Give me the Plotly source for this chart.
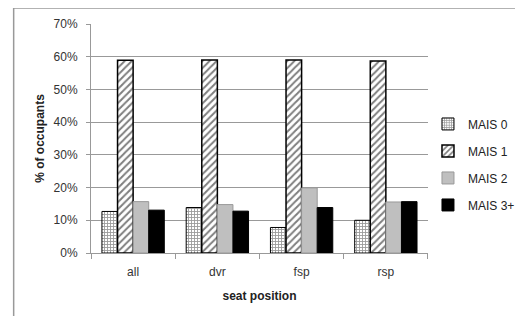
import plotly.graph_objects as go

categories = ["all", "dvr", "fsp", "rsp"]
mais0 = [0.127, 0.139, 0.078, 0.100]
mais1 = [0.589, 0.590, 0.590, 0.587]
mais2 = [0.157, 0.148, 0.199, 0.156]
mais3 = [0.131, 0.128, 0.139, 0.157]
series_names = ["MAIS 0", "MAIS 1", "MAIS 2", "MAIS 3+"]
y_ticks = [0, 0.1, 0.2, 0.3, 0.4, 0.5, 0.6, 0.7]

fig = go.Figure()
fig.add_bar(name=series_names[0], x=categories, y=mais0, legendgroup="g0",
            marker=dict(color="white", line=dict(color="black", width=1),
                        pattern=dict(shape="+", fgcolor="#333", bgcolor="white", size=3, solidity=0.5)))
fig.add_bar(name=series_names[1], x=categories, y=mais1, legendgroup="g1",
            marker=dict(color="white", line=dict(color="black", width=1.5),
                        pattern=dict(shape="/", fgcolor="black", bgcolor="white", size=5, solidity=0.4)))
fig.add_bar(name=series_names[2], x=categories, y=mais2, legendgroup="g2",
            marker=dict(color="#bfbfbf", line=dict(color="#999999", width=1)))
fig.add_bar(name=series_names[3], x=categories, y=mais3, legendgroup="g3",
            marker=dict(color="black", line=dict(color="black", width=1)))

font = "Liberation Sans, Arial, sans-serif"
# page body has an 8px margin, so the figure is 8px smaller to fit the window
fig.update_layout(
    width=515, height=308,
    margin=dict(l=83, r=90, t=16, b=63),
    paper_bgcolor="white", plot_bgcolor="white",
    barmode="group", bargap=0.26, bargroupgap=0,
    font=dict(family=font, size=12, color="#333"),
    showlegend=True,
    legend=dict(xref="container", yref="container", x=0.8155, y=0.492,
                xanchor="left", yanchor="middle",
                font=dict(size=12, color="#222"), tracegroupgap=8,
                itemwidth=30, bgcolor="rgba(0,0,0,0)"),
    xaxis=dict(showline=True, linecolor="#999", linewidth=1, automargin=False,
               ticks="outside", ticklen=5, tickcolor="#999",
               tickson="boundaries", ticklabelstandoff=8,
               tickfont=dict(size=12, color="#333"),
               title=dict(text="<b>seat position</b>", font=dict(size=12, color="#222"), standoff=13)),
    yaxis=dict(range=[0, 0.7], tickvals=y_ticks, tickformat=".0%", automargin=False,
               showgrid=True, gridcolor="#999", gridwidth=1,
               showline=True, linecolor="#999", zeroline=False,
               ticks="outside", ticklen=4, tickcolor="#999", ticklabelstandoff=6,
               tickfont=dict(size=12, color="#333"),
               title=dict(text="<b>% of occupants</b>", font=dict(size=12, color="#222"), standoff=6)),
)
# outer chart frame
fig.add_shape(type="line", xref="paper", yref="paper", x0=-0.2295, x1=-0.2295, y0=1.07, y1=-0.4,
              line=dict(color="#999", width=1.5))
fig.add_shape(type="line", xref="paper", yref="paper", x0=-0.2295, x1=1.4, y0=1.07, y1=1.07,
              line=dict(color="#999", width=1.5))

fig.write_html("out.html")
